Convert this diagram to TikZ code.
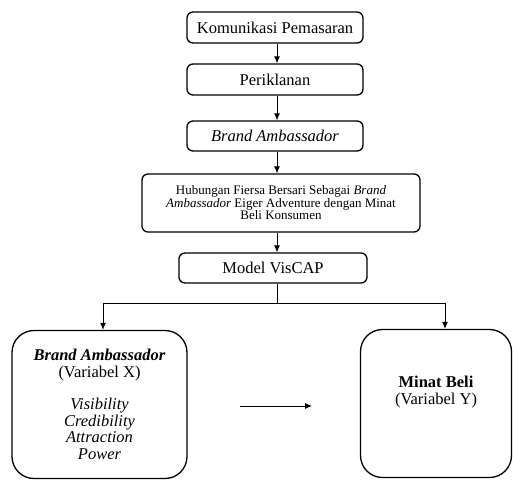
\documentclass[tikz,border=0pt]{standalone}
\usepackage{fontspec}
\setmainfont{Liberation Serif}
\usepackage{tikz}
\usetikzlibrary{arrows.meta,positioning}

\begin{document}
\begin{tikzpicture}[
    x=1pt, y=-1pt,
    box/.style={
        draw,
        line width=1.3pt,
        rounded corners=6pt,
        align=center,
        inner sep=2pt,
        font=\fontsize{16.5}{17}\selectfont
    },
    bigbox/.style={
        draw,
        line width=1.3pt,
        rounded corners=22pt,
        align=center,
        minimum height=148pt,
        font=\fontsize{16.5}{16.5}\selectfont
    },
    arrow/.style={
        -{Latex[length=7pt,width=6pt]},
        line width=0.9pt
    }
]
\useasboundingbox (0,0) rectangle (513,480);

% Top chain of boxes
\node[box, minimum width=176pt, minimum height=31pt] (komunikasi) at (275,27.5)
{Komunikasi Pemasaran};

\node[box, minimum width=176pt, minimum height=31pt] (iklan) at (275,79.5)
{Periklanan};

\node[box, minimum width=176pt, minimum height=30pt] (brand) at (275,136)
{\textit{Brand Ambassador}};

\node[box, minimum width=278pt, minimum height=58pt,
      font=\fontsize{13}{12.5}\selectfont] (hubungan) at (281,203)
{Hubungan Fiersa Bersari Sebagai \textit{Brand}\\
\textit{Ambassador} Eiger Adventure dengan Minat\\
Beli Konsumen};

\node[box, minimum width=188pt, minimum height=30pt] (viscap) at (273,268)
{Model VisCAP};

% Two variable boxes
\node[bigbox, minimum width=175pt] (varx) at (99.5,404.5)
{\textbf{\textit{Brand Ambassador}}\\
(Variabel X)\\[16pt]
\textit{Visibility}\\
\textit{Credibility}\\
\textit{Attraction}\\
\textit{Power}};

\node[bigbox, minimum width=151pt] (vary) at (436,403.5) {};
\node[align=center, font=\fontsize{16.5}{16.5}\selectfont] (varylabel) at (436,392)
{\textbf{Minat Beli}\\
(Variabel Y)};

% Arrows down the chain
\draw[arrow] (komunikasi.south -| 277,0) -- (iklan.north -| 277,0);
\draw[arrow] (iklan.south -| 277,0) -- (brand.north -| 277,0);
\draw[arrow] (brand.south -| 277,0) -- (hubungan.north -| 277,0);
\draw[arrow] (hubungan.south -| 277,0) -- (viscap.north -| 277,0);

% Branching line
\coordinate (branch) at (277,303);
\draw[line width=0.9pt] (viscap.south -| 277,0) -- (branch);
\draw[line width=0.9pt] (103,303) -- (445,303);
\draw[arrow] (103,303) -- (varx.north -| 103,0);
\draw[arrow] (445,303) -- (vary.north -| 445,0);

% Arrow between the variables
\coordinate (xend) at (240,406);
\coordinate (yend) at (312,406);
\draw[arrow] (xend) -- (yend);

\end{tikzpicture}
\end{document}
